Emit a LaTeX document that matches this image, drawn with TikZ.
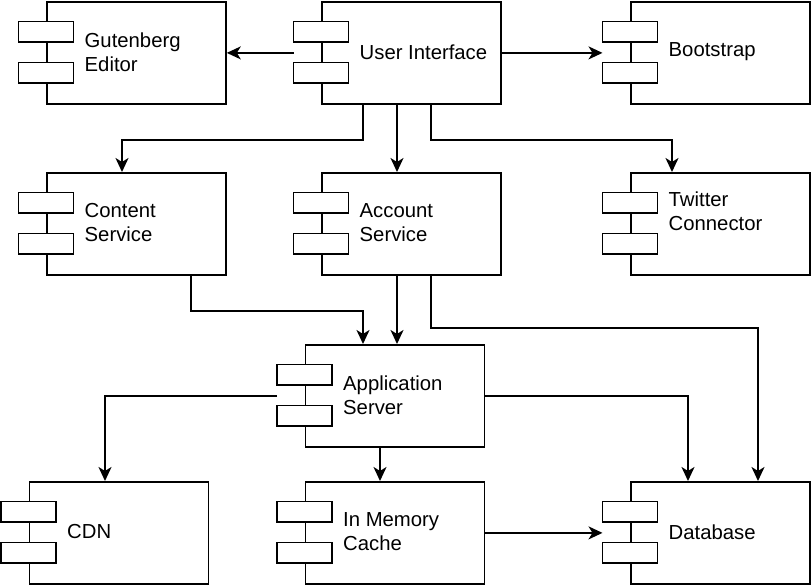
\documentclass[tikz,border=0pt]{standalone}
\usepackage{fontspec}
\setmainfont{Liberation Sans}
\usetikzlibrary{arrows.meta,calc}
\tikzset{
  comp/.style={draw, line width=1.8pt, fill=white, rectangle, inner sep=0pt,
    minimum width=179pt, minimum height=102pt, anchor=north west},
  jet/.style={draw, line width=1.8pt, fill=white},
  lbl/.style={anchor=west, align=left, inner sep=0pt,
    font=\fontsize{20.3}{24}\selectfont},
  arr/.style={line width=1.8pt, -{Stealth[length=14pt,width=13pt,inset=4pt]}},
}
\newcommand{\mycomp}[5][-51pt]{%
  \node[comp] (#2) at (#3) {};
  \draw[jet] ([xshift=-27.5pt,yshift=-20.5pt]#2.north west) rectangle ++(55,-20.5);
  \draw[jet] ([xshift=-27.5pt,yshift=-61.5pt]#2.north west) rectangle ++(55,-20.5);
  \coordinate (#2-l) at ([xshift=-27.5pt]#2.west);
  \node[lbl] (#2-t) at ([xshift=38.5pt,yshift=#1]#2.north west) {#4};
}
\begin{document}
\begin{tikzpicture}[x=1pt,y=1pt]
\useasboundingbox (0,0) rectangle (811,585);
\mycomp{gut}{46,584}{Gutenberg\\Editor}{}
\mycomp{ui}{321,584}{User Interface}{}
\mycomp{boot}{630,584}{Bootstrap}{}
\mycomp{content}{46,413}{Content\\Service}{}
\mycomp{account}{321,413}{Account\\Service}{}
\mycomp[-39pt]{twitter}{630,413}{Twitter\\Connector}{}
\mycomp{app}{304.5,241}{Application\\Server}{}
\mycomp{cdn}{28.5,104}{CDN}{}
\mycomp{mem}{304.5,104}{In Memory\\Cache}{}
\mycomp{db}{630,104}{Database}{}

\draw[arr] (ui-l) -- (gut.east);
\draw[arr] (ui.east) -- (boot-l);
\draw[arr] ([xshift=42pt]ui.south west) -- ++(0,-35) -| ([xshift=76pt]content.north west);
\draw[arr] ([xshift=76pt]ui.south west) -- ([xshift=76pt]account.north west);
\draw[arr] ([xshift=110pt]ui.south west) -- ++(0,-35) -| ([xshift=42pt]twitter.north west);
\draw[arr] ([xshift=145pt]content.south west) -- ++(0,-35) -| ([xshift=58.5pt]app.north west);
\draw[arr] ([xshift=76pt]account.south west) coordinate (t1) -- (t1 |- app.north);
\draw[arr] ([xshift=110pt]account.south west) -- ++(0,-52) -| ([xshift=128pt]db.north west);
\draw[arr] (app-l) -| ([xshift=76.5pt]cdn.north west);
\draw[arr] (app.east) -| ([xshift=58pt]db.north west);
\draw[arr] ([xshift=75.5pt]app.south west) -- ([xshift=75.5pt]mem.north west);
\draw[arr] (mem.east) -- (db-l);
\end{tikzpicture}
\end{document}
